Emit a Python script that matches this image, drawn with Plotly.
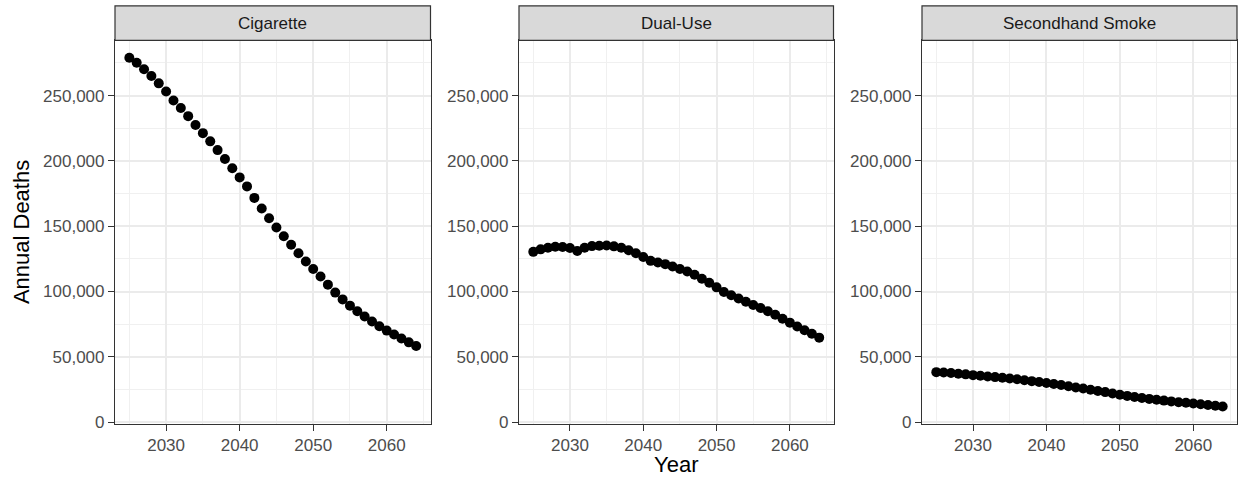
import plotly.graph_objects as go

# Projected annual deaths by exposure type, 2025-2064
years = list(range(2025, 2065))

cigarette = [
    279000, 275200, 270200, 265100, 259400, 253100, 246300, 240600, 234300, 227500,
    221300, 215000, 208300, 201500, 194400, 187400, 180500, 171700, 163600, 156100,
    149100, 142300, 135800, 129300, 123000, 117300, 111500, 105300, 99200, 94000,
    89200, 84900, 80900, 77100, 73400, 70100, 67100, 64100, 61100, 58300,
]

dual_use = [
    130400, 132300, 133600, 134300, 134100, 133300, 131000, 133500, 134800, 135100,
    135300, 134600, 133500, 131600, 129300, 126500, 123500, 122300, 121000, 119200,
    117300, 115300, 112800, 109800, 106800, 103200, 99700, 97200, 94700, 92200,
    89700, 87400, 84900, 82200, 79200, 76200, 73200, 70400, 67700, 64700,
]

secondhand = [
    38300, 38000, 37600, 37100, 36600, 36000, 35500, 35000, 34500, 34000,
    33400, 32800, 32100, 31400, 30700, 30000, 29200, 28400, 27500, 26600,
    25700, 24800, 23900, 23000, 22000, 21000, 20100, 19300, 18500, 17800,
    17100, 16500, 15900, 15300, 14800, 14300, 13700, 13200, 12600, 12000,
]

panels = ["Cigarette", "Dual-Use", "Secondhand Smoke"]
series = [cigarette, dual_use, secondhand]

W, H = 1238, 487
FONT = "Liberation Sans, Arial, sans-serif"

# panel pixel boxes (left, right); shared vertical extent
panel_x = [(115, 430.5), (519, 833.5), (922, 1237)]
plot_top, plot_bottom = 41, 431
strip_top = 6

# shared scales with 5% expansion on each side
all_vals = cigarette + dual_use + secondhand
ymin, ymax = min(all_vals), max(all_vals)
ypad = 0.05 * (ymax - ymin)
yrange = [ymin - ypad, ymax + ypad]
xpad = 0.05 * (years[-1] - years[0])
xrange = [years[0] - xpad, years[-1] + xpad]

fig = go.Figure()
layout = dict(
    width=W, height=H,
    margin=dict(l=0, r=0, t=0, b=0),
    paper_bgcolor="white", plot_bgcolor="white",
    showlegend=False,
    font=dict(family=FONT, color="#4D4D4D", size=17),
    shapes=[], annotations=[],
)

ydom = [(H - plot_bottom) / H, (H - plot_top) / H]

for i, (name, vals) in enumerate(zip(panels, series)):
    n = "" if i == 0 else str(i + 1)
    x0, x1 = panel_x[i]
    fig.add_trace(go.Scatter(
        x=years, y=vals, mode="markers",
        marker=dict(color="black", size=10, line=dict(width=0)),
        xaxis="x" + n, yaxis="y" + n, name=name,
    ))
    layout["xaxis" + n] = dict(
        domain=[x0 / W, x1 / W], anchor="y" + n, range=xrange,
        tickmode="linear", tick0=2030, dtick=10,
        showgrid=True, gridcolor="#EBEBEB", gridwidth=2,
        minor=dict(tick0=2025, dtick=5, showgrid=True, gridcolor="#F0F0F0", gridwidth=1, ticklen=0),
        showline=True, linecolor="#333333", linewidth=1.2, mirror=True,
        ticks="outside", ticklen=6, tickwidth=1.2, tickcolor="#333333",
        tickfont=dict(family=FONT, size=17, color="#4D4D4D"),
        zeroline=False,
    )
    layout["yaxis" + n] = dict(
        domain=ydom, anchor="x" + n, range=yrange,
        tickmode="linear", tick0=0, dtick=50000, tickformat=",",
        showgrid=True, gridcolor="#EBEBEB", gridwidth=2,
        minor=dict(tick0=0, dtick=25000, showgrid=True, gridcolor="#F0F0F0", gridwidth=1, ticklen=0),
        showline=True, linecolor="#333333", linewidth=1.2, mirror=True,
        ticks="outside", ticklen=6, tickwidth=1.2, tickcolor="#333333",
        tickfont=dict(family=FONT, size=17, color="#4D4D4D"),
        zeroline=False,
    )
    # facet strip
    layout["shapes"].append(dict(
        type="rect", xref="paper", yref="paper",
        x0=x0 / W, x1=x1 / W,
        y0=(H - plot_top) / H, y1=(H - strip_top) / H,
        fillcolor="#D9D9D9", line=dict(color="#333333", width=1.2),
        layer="above",
    ))
    layout["annotations"].append(dict(
        text=name, xref="paper", yref="paper",
        x=(x0 + x1) / 2 / W, y=(H - (strip_top + plot_top) / 2) / H,
        xanchor="center", yanchor="middle", showarrow=False,
        font=dict(family=FONT, size=17, color="#1A1A1A"),
    ))

# axis titles
layout["annotations"].append(dict(
    text="Year", xref="paper", yref="paper",
    x=676 / W, y=(H - 472) / H, xanchor="center", yanchor="middle",
    showarrow=False, font=dict(family=FONT, size=22, color="black"),
))
layout["annotations"].append(dict(
    text="Annual Deaths", xref="paper", yref="paper", textangle=-90,
    x=21 / W, y=(H - 236) / H, xanchor="center", yanchor="middle",
    showarrow=False, font=dict(family=FONT, size=22, color="black"),
))

fig.update_layout(**layout)
fig.write_html("out.html")
